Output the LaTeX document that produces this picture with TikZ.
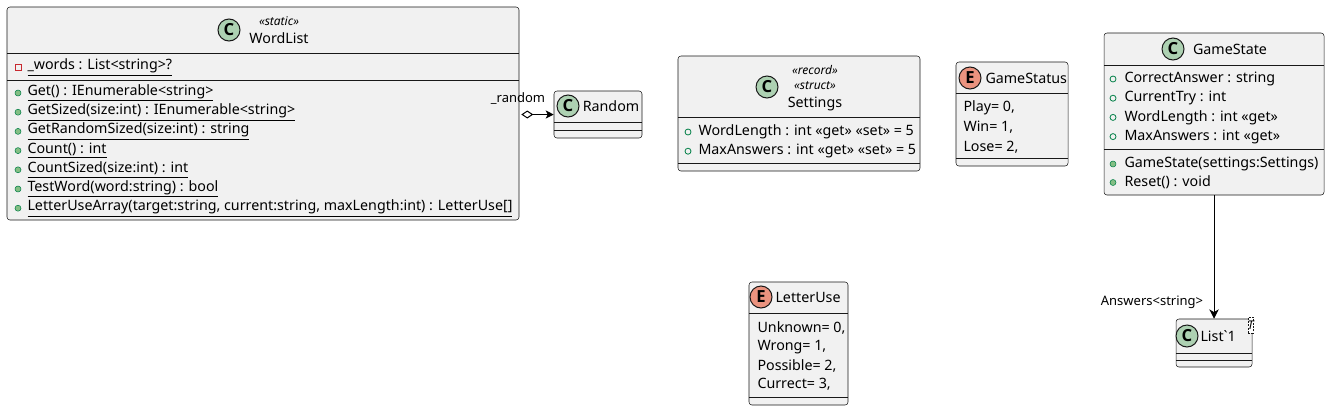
\documentclass[tikz,border=0pt]{standalone}
\usepackage{fontspec}
\setmainfont{Noto Sans}
\newfontfamily\spotfont{Open Sans}
\newfontfamily\rawfont{Noto Sans}[Ligatures=ResetAll]
\usepackage{tikz}
\usetikzlibrary{arrows.meta,fit}
\definecolor{umlbg}{HTML}{F1F1F1}
\definecolor{umlline}{HTML}{181818}
\definecolor{cspot}{HTML}{ADD1B2}
\definecolor{espot}{HTML}{EB937F}
\definecolor{pubfill}{HTML}{84BE84}
\definecolor{publine}{HTML}{038048}
\definecolor{privline}{HTML}{C82930}
\tikzset{every picture/.style={line width=0.75pt}}
\tikzset{
  classbox/.style={draw=umlline, fill=umlbg, line width=0.4pt, rounded corners=2.2pt, inner sep=0pt},
  sepline/.style={draw=umlline, line width=0.4pt},
  spot/.style={circle, draw=umlline, line width=0.75pt, minimum size=16.5pt, inner sep=0pt, font=\fontsize{12.5}{12}\spotfont\bfseries},
  member/.style={anchor=west, inner sep=0pt, font=\fontsize{10.7}{12}\selectfont},
  cname/.style={inner sep=0pt, font=\fontsize{10.7}{12}\selectfont},
  stereo/.style={inner sep=0pt, font=\fontsize{9}{10}\itshape},
  pubm/.style={circle, fill=pubfill, draw=publine, line width=0.4pt, minimum size=4.5pt, inner sep=0pt},
  pubf/.style={circle, draw=publine, line width=0.6pt, minimum size=4.5pt, inner sep=0pt},
  privf/.style={rectangle, draw=privline, line width=0.6pt, minimum size=4.5pt, inner sep=0pt},
  rolelabel/.style={inner sep=0pt, font=\fontsize{9.75}{11}\selectfont},
}

\begin{document}
\begin{tikzpicture}[x=0.75pt,y=0.75pt,yscale=-1,xscale=1]
\useasboundingbox (0,0) rectangle (1330,411);

%Class: WordList
\node[classbox, fit={(7,7) (519,220)}] (wordlist) {};
\draw[sepline] (7,53) -- (519,53);
\draw[sepline] (7,80) -- (519,80);
\node[spot, fill=cspot] (wlspot) at (229,30) {C};
\node[stereo] (wlst) at (279,21.5) {«static»};
\node[cname] (wlname) at (279,38) {WordList};
\node[privf] (wlf1b) at (18,67.5) {};
\node[member] (wlf1) at (27,67.5) {\underline{\_words : List<string>?}};
\foreach \m [count=\i] in {{Get() : IEnumerable<string>},{GetSized(size:int) : IEnumerable<string>},{GetRandomSized(size:int) : string},{Count() : int},{CountSized(size:int) : int},{TestWord(word:string) : bool},{LetterUseArray(target:string, current:string, maxLength:int) : LetterUse[]}}{
  \node[pubm] (wlb\i) at (18,{93+(\i-1)*19.2}) {};
  \node[member] (wlm\i) at (27,{93+(\i-1)*19.2}) {\underline{\m}};
}

%Class: Random
\node[classbox, fit={(554,91) (642,138)}] (random) {};
\draw[sepline] (554,122) -- (642,122);
\draw[sepline] (554,130) -- (642,130);
\node[spot, fill=cspot] (rdspot) at (568,106) {C};
\node[cname] (rdname) at (611,106) {Random};

%Class: Settings
\node[classbox, fit={(678,56) (920,171)}] (settings) {};
\draw[sepline] (678,117) -- (920,117);
\draw[sepline] (678,163) -- (920,163);
\node[spot, fill=cspot] (stspot) at (767,87) {C};
\node[stereo] (stst1) at (815,70) {«record»};
\node[stereo] (stst2) at (815,86) {«struct»};
\node[cname] (stname) at (815,104) {Settings};
\foreach \m [count=\i] in {{WordLength : int «get» «set» = 5},{MaxAnswers : int «get» «set» = 5}}{
  \node[pubf] (stb\i) at (688,{132+(\i-1)*19.2}) {};
  \node[member] (stm\i) at (698,{132+(\i-1)*19.2}) {\m};
}

%Enum: GameStatus
\node[classbox, fit={(956,62) (1068,166)}] (gamestatus) {};
\draw[sepline] (956,93) -- (1068,93);
\draw[sepline] (956,158) -- (1068,158);
\node[spot, fill=espot] (gsspot) at (970,78) {E};
\node[cname, anchor=west] (gsname) at (985,78) {GameStatus};
\foreach \m [count=\i] in {{Play= 0,},{Win= 1,},{Lose= 2,}}{
  \node[member] (gsm\i) at (963,{108+(\i-1)*19.5}) {\m};
}

%Class: GameState
\node[classbox, fit={(1104,33) (1324,195)}] (gamestate) {};
\draw[sepline] (1104,65) -- (1324,65);
\draw[sepline] (1104,149) -- (1324,149);
\node[spot, fill=cspot] (gtspot) at (1173,49) {C};
\node[cname] (gtname) at (1230,49) {GameState};
\foreach \m [count=\i] in {{CorrectAnswer : string},{CurrentTry : int},{WordLength : int «get»},{MaxAnswers : int «get»}}{
  \node[pubf] (gtfb\i) at (1113,{79+(\i-1)*19.2}) {};
  \node[member] (gtf\i) at (1124,{79+(\i-1)*19.2}) {\m};
}
\foreach \m [count=\i] in {{GameState(settings:Settings)},{Reset() : void}}{
  \node[pubm] (gtmb\i) at (1113,{164+(\i-1)*18.5}) {};
  \node[member] (gtm\i) at (1124,{164+(\i-1)*18.5}) {\m};
}

%Enum: LetterUse
\node[classbox, fit={(749,282) (848,405)}] (letteruse) {};
\draw[sepline] (749,313) -- (848,313);
\draw[sepline] (749,397) -- (848,397);
\node[spot, fill=espot] (luspot) at (761,297) {E};
\node[cname, anchor=west] (luname) at (775,297) {LetterUse};
\foreach \m [count=\i] in {{Unknown= 0,},{Wrong= 1,},{Possible= 2,},{Currect= 3,}}{
  \node[member] (lum\i) at (757,{328+(\i-1)*18.8}) {\m};
}

%Class: List`1
\node[classbox, fit={(1176,319) (1252,367)}] (list) {};
\draw[sepline] (1176,353) -- (1252,353);
\draw[sepline] (1176,360) -- (1252,360);
\node[spot, fill=cspot] (lsspot) at (1187,336) {C};
\node[cname, anchor=west] (lsname) at (1200,336) {\rawfont List`1};
\node[draw=umlline, fill=white, dash pattern=on 1.5pt off 1pt, line width=0.4pt, inner sep=0pt, fit={(1248,317) (1253,333)}] (lstpl) {};
\node[stereo] (lstplT) at (lstpl) {T};

%Connectors
\draw[{Diamond[open,length=9pt,width=6pt]}-{Stealth[length=6pt,width=6pt,inset=1.5pt]}, shorten <=1.5pt] (wordlist.east |- random.west) -- (random.west);
\node[rolelabel] (randomlbl) at (518,99) {\_random};
\draw[-{Stealth[length=7pt,width=7pt,inset=2pt]}] (gamestate.south) -- (list.north);
\node[rolelabel] (answerslbl) at (1152,302) {Answers<string>};

\end{tikzpicture}
\end{document}
